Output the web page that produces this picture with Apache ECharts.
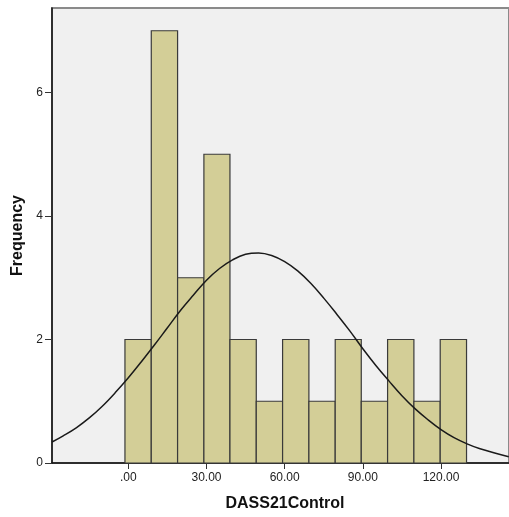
<!DOCTYPE html>
<html>
<head>
<meta charset="utf-8">
<script src="https://cdn.jsdelivr.net/npm/echarts@6/dist/echarts.min.js"></script>
<style>
html,body{margin:0;padding:0;background:#fff;}
#chart{width:509px;height:517px;}
</style>
</head>
<body>
<div id="chart"></div>
<script>
// Histogram bins (edges) and counts
var binEdges = [-1.3, 8.8, 18.9, 29.0, 39.0, 49.1, 59.2, 69.3, 79.4, 89.4, 99.5, 109.6, 119.7, 129.8];
var counts = [2, 7, 3, 5, 2, 1, 2, 1, 2, 1, 2, 1, 2];

// Normal curve points
var curveX = [-29.3, -25, -20, -15, -10, -5, 0, 5, 10, 15, 20, 25, 30, 35, 40, 45, 50, 55, 60, 65, 70, 75, 80, 85, 90, 95, 100, 105, 110, 115, 120, 125, 130, 135, 146];
var curveY = [0.34, 0.44, 0.57, 0.73, 0.92, 1.14, 1.38, 1.64, 1.91, 2.19, 2.47, 2.72, 2.96, 3.15, 3.29, 3.38, 3.40, 3.36, 3.26, 3.11, 2.91, 2.67, 2.41, 2.14, 1.85, 1.58, 1.33, 1.09, 0.88, 0.70, 0.54, 0.41, 0.31, 0.23, 0.10];

// Tick values
var xTickValues = [0, 30, 60, 90, 120];
var yTickValues = [0, 2, 4, 6];

var barData = counts.map(function (c, i) { return [binEdges[i], binEdges[i + 1], c]; });
var lineData = curveX.map(function (x, i) { return [x, curveY[i]]; });

var chart = echarts.init(document.getElementById('chart'));
chart.setOption({
  animation: false,
  backgroundColor: '#ffffff',
  grid: {
    left: 52, top: 8, right: -2, bottom: 54,
    show: true, backgroundColor: '#f0f0f0', borderColor: '#8a8a8a', borderWidth: 2
  },
  xAxis: {
    type: 'value', min: -29.3, max: 146.1,
    name: 'DASS21Control', nameLocation: 'middle', nameGap: 33,
    nameTextStyle: { fontFamily: 'Liberation Sans', fontWeight: 'bold', fontSize: 16, color: '#111', padding: [0, 0, 0, 9] },
    axisLine: { show: true, onZero: false, lineStyle: { color: '#111', width: 1.5 } },
    axisTick: { show: true, length: 6, customValues: xTickValues, lineStyle: { color: '#333' } },
    axisLabel: {
      customValues: xTickValues, margin: 9, fontFamily: 'Liberation Sans', fontSize: 12, color: '#222',
      formatter: function (v) { return v === 0 ? '.00' : v.toFixed(2); }
    },
    splitLine: { show: false }
  },
  yAxis: {
    type: 'value', min: 0, max: 7.368,
    name: 'Frequency', nameLocation: 'middle', nameGap: 26,
    nameTextStyle: { fontFamily: 'Liberation Sans', fontWeight: 'bold', fontSize: 16, color: '#111' },
    axisLine: { show: true, onZero: false, lineStyle: { color: '#111', width: 1.5 } },
    axisTick: { show: true, length: 7, customValues: yTickValues, lineStyle: { color: '#333' } },
    axisLabel: { customValues: yTickValues, margin: 9, fontFamily: 'Liberation Sans', fontSize: 12, color: '#222' },
    splitLine: { show: false }
  },
  series: [
    {
      type: 'custom',
      data: barData,
      encode: { x: [0, 1], y: 2 },
      renderItem: function (params, api) {
        var p0 = api.coord([api.value(0), api.value(2)]);
        var p1 = api.coord([api.value(1), 0]);
        return {
          type: 'rect',
          shape: { x: p0[0], y: p0[1], width: p1[0] - p0[0], height: p1[1] - p0[1] },
          style: { fill: '#d3ce97', stroke: '#3a3a3a', lineWidth: 1.2 }
        };
      },
      z: 2
    },
    {
      type: 'line',
      data: lineData,
      smooth: 0.4,
      showSymbol: false,
      lineStyle: { color: '#1a1a1a', width: 1.5 },
      z: 3
    }
  ]
});
</script>
</body>
</html>
